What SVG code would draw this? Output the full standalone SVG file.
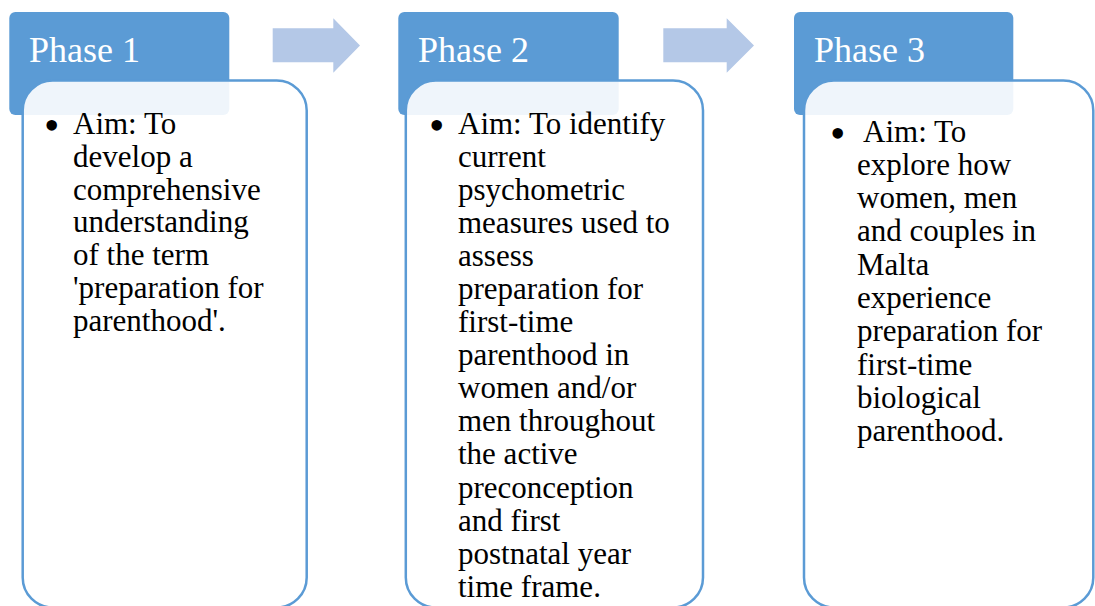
<svg xmlns="http://www.w3.org/2000/svg" width="1095" height="606" viewBox="0 0 1095 606">
<style>
.hdr{fill:#5B9BD5;}
.box{fill:#FFFFFF;fill-opacity:0.9;stroke:#5B9BD5;stroke-width:2.5;}
.arr{fill:#B4C8E7;}
.title{font-family:"Liberation Serif","Times New Roman",serif;font-size:36px;fill:#FFFFFF;}
.body{font-family:"Liberation Serif","Times New Roman",serif;font-size:31px;fill:#000000;}
.bul{font-family:"Liberation Serif","Times New Roman",serif;font-size:44px;fill:#000000;}
</style>
<rect width="1095" height="606" fill="#FFFFFF"/>
<g id="connectors">
<polygon class="arr" points="272.7,28.3 333.3,28.3 333.3,18.3 360,45.5 333.3,72.7 333.3,62.3 272.7,62.3"/>
<polygon class="arr" points="663.3,28.3 726.7,28.3 726.7,18.3 754,45.5 726.7,72.7 726.7,62.3 663.3,62.3"/>
</g>
<g id="phase1">
<rect class="hdr" x="9.3" y="12" width="220" height="103" rx="6"/>
<text class="title" x="29" y="62">Phase 1</text>
<rect class="box" x="22.7" y="80.5" width="284" height="527" rx="30"/>
<text class="bul" x="44" y="140">•</text>
<text class="body"><tspan x="73" y="134">Aim: To</tspan><tspan x="73" dy="32.8">develop a</tspan><tspan x="73" dy="32.8">comprehensive</tspan><tspan x="73" dy="32.8">understanding</tspan><tspan x="73" dy="32.8">of the term</tspan><tspan x="73" dy="32.8">'preparation for</tspan><tspan x="73" dy="32.8">parenthood'.</tspan></text>
</g>
<g id="phase2">
<rect class="hdr" x="398.3" y="12" width="220.4" height="103" rx="6"/>
<text class="title" x="418" y="62">Phase 2</text>
<rect class="box" x="405.8" y="80.5" width="297.2" height="527" rx="30"/>
<text class="bul" x="429" y="140">•</text>
<text class="body"><tspan x="458" y="134">Aim: To identify</tspan><tspan x="458" dy="33.05">current</tspan><tspan x="458" dy="33.05">psychometric</tspan><tspan x="458" dy="33.05">measures used to</tspan><tspan x="458" dy="33.05">assess</tspan><tspan x="458" dy="33.05">preparation for</tspan><tspan x="458" dy="33.05">first-time</tspan><tspan x="458" dy="33.05">parenthood in</tspan><tspan x="458" dy="33.05">women and/or</tspan><tspan x="458" dy="33.05">men throughout</tspan><tspan x="458" dy="33.05">the active</tspan><tspan x="458" dy="33.05">preconception</tspan><tspan x="458" dy="33.05">and first</tspan><tspan x="458" dy="33.05">postnatal year</tspan><tspan x="458" dy="33.05">time frame.</tspan></text>
</g>
<g id="phase3">
<rect class="hdr" x="794" y="12" width="219.3" height="103" rx="6"/>
<text class="title" x="814" y="62">Phase 3</text>
<rect class="box" x="804" y="80.5" width="289.3" height="527" rx="30"/>
<text class="bul" x="830" y="147.5">•</text>
<text class="body" xml:space="preserve"><tspan x="857" y="141.5"> Aim: To</tspan><tspan x="857" dy="33.3">explore how</tspan><tspan x="857" dy="33.3">women, men</tspan><tspan x="857" dy="33.3">and couples in</tspan><tspan x="857" dy="33.3">Malta</tspan><tspan x="857" dy="33.3">experience</tspan><tspan x="857" dy="33.3">preparation for</tspan><tspan x="857" dy="33.3">first-time</tspan><tspan x="857" dy="33.3">biological</tspan><tspan x="857" dy="33.3">parenthood.</tspan></text>
</g>
</svg>
